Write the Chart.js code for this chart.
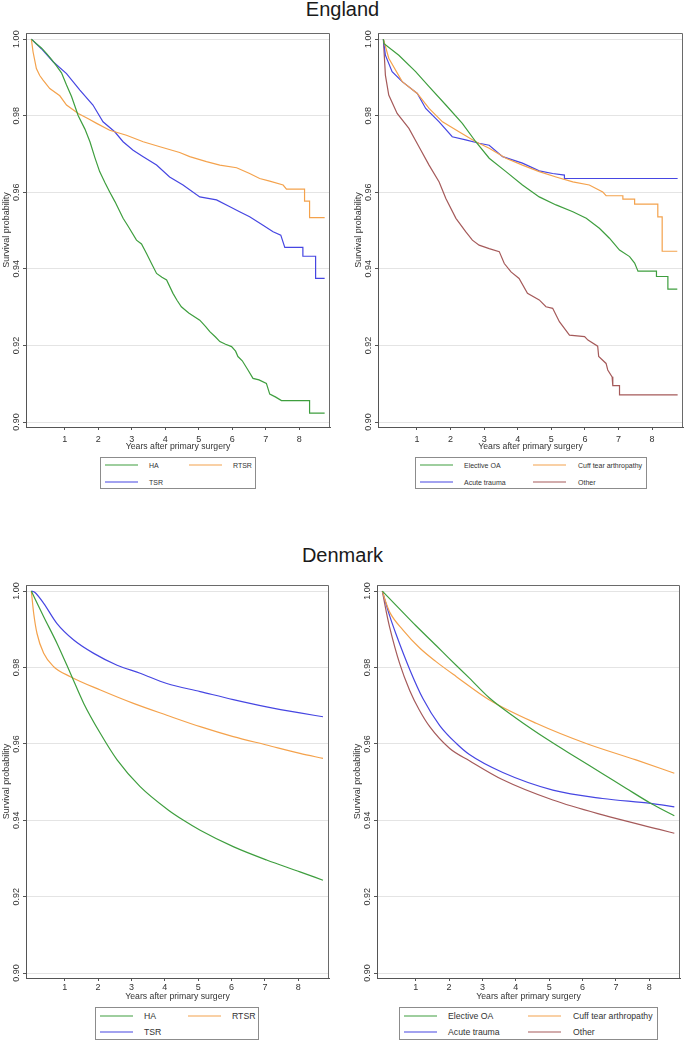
<!DOCTYPE html>
<html>
<head>
<meta charset="utf-8">
<script src="https://cdn.jsdelivr.net/npm/chart.js@4.4.1/dist/chart.umd.min.js"></script>
<style>
body { margin: 0; background: #fff; font-family: "Liberation Sans", Arial, sans-serif; }
#page { position: relative; width: 685px; height: 1041px; overflow: hidden; }
.title { position: absolute; left: 0; width: 685px; text-align: center; font-size: 20px; line-height: 20px; color: #1a1a1a; }
canvas { position: absolute; }
.legend { position: absolute; border: 1px solid #8c8c8c; box-sizing: border-box; }
.legend .txt { position: absolute; white-space: nowrap; color: #333; transform: translateY(-50%); }
.legend .ln { position: absolute; width: 33px; height: 0; border-top: 1.5px solid; transform: translateY(-50%); }
</style>
</head>
<body>
<div id="page">
  <div class="title" style="top:-1px">England</div>
  <div class="title" style="top:545px">Denmark</div>
  <canvas id="engType" width="340" height="425" style="left:0px;top:28px"></canvas>
  <canvas id="engInd" width="333" height="425" style="left:352px;top:28px"></canvas>
  <canvas id="dkType" width="340" height="424" style="left:0px;top:580px"></canvas>
  <canvas id="dkInd" width="333" height="424" style="left:351px;top:580px"></canvas>
</div>
<script>
// axis ticks and titles
var xTicks = [1, 2, 3, 4, 5, 6, 7, 8];
var yTicks = [0.90, 0.92, 0.94, 0.96, 0.98, 1.00];
var xTitle = "Years after primary surgery";
var yTitle = "Survival probability";

// England, by prosthesis type (Kaplan-Meier; repeated x = a visible drop)
var engHaX = [0, 0.15, 0.3, 0.45, 0.6, 0.75, 0.9, 1.05, 1.2, 1.4, 1.6, 1.75, 1.9, 2.04, 2.2, 2.34, 2.5, 2.74, 2.9, 3.14, 3.29, 3.44, 3.6, 3.74, 3.9, 4.04, 4.23, 4.35, 4.48, 4.7, 5.03, 5.2, 5.33, 5.5, 5.63, 5.8, 5.98, 6.1, 6.17, 6.3, 6.47, 6.62, 6.8, 7.02, 7.12, 7.3, 7.47, 8.31, 8.31, 8.76];
var engHaY = [1.0, 0.9988, 0.9977, 0.9963, 0.9947, 0.9930, 0.9912, 0.9880, 0.9850, 0.9800, 0.9765, 0.9732, 0.9690, 0.9654, 0.9625, 0.9601, 0.9575, 0.9532, 0.9510, 0.9475, 0.9465, 0.9440, 0.9412, 0.9388, 0.9378, 0.9371, 0.9336, 0.9318, 0.9301, 0.9285, 0.9266, 0.9250, 0.9236, 0.9222, 0.9210, 0.9203, 0.9197, 0.9185, 0.9171, 0.9160, 0.9136, 0.9114, 0.9110, 0.9101, 0.9073, 0.9065, 0.9056, 0.9056, 0.9023, 0.9023];
var engRtsrX = [0, 0.05, 0.15, 0.25, 0.35, 0.55, 0.85, 1.05, 1.4, 1.7, 1.95, 2.34, 2.84, 3.34, 3.84, 4.43, 4.73, 5.23, 5.63, 6.13, 6.52, 6.82, 7.12, 7.52, 7.62, 8.16, 8.16, 8.31, 8.31, 8.76];
var engRtsrY = [1.0, 0.9967, 0.9923, 0.9905, 0.9893, 0.9871, 0.9852, 0.9828, 0.9806, 0.9792, 0.9780, 0.9762, 0.9749, 0.9732, 0.9719, 0.9704, 0.9693, 0.9680, 0.9671, 0.9664, 0.9649, 0.9636, 0.9629, 0.9619, 0.9608, 0.9608, 0.9577, 0.9577, 0.9534, 0.9534];
var engTsrX = [0, 0.3, 0.65, 1.05, 1.45, 1.84, 2.14, 2.49, 2.74, 3.04, 3.34, 3.74, 4.13, 4.53, 5.03, 5.53, 5.93, 6.22, 6.52, 6.92, 7.22, 7.45, 7.57, 8.11, 8.11, 8.49, 8.49, 8.76];
var engTsrY = [1.0, 0.9975, 0.9941, 0.9910, 0.9867, 0.9828, 0.9784, 0.9758, 0.9732, 0.9710, 0.9693, 0.9671, 0.9640, 0.9619, 0.9588, 0.9580, 0.9562, 0.9549, 0.9536, 0.9514, 0.9497, 0.9488, 0.9456, 0.9456, 0.9433, 0.9433, 0.9375, 0.9375];

// England, by indication (Kaplan-Meier; repeated x = a visible drop)
var engOaX = [0, 0.02, 0.46, 0.96, 1.36, 1.86, 2.35, 2.75, 3.15, 3.65, 4.14, 4.64, 5.14, 5.64, 6.04, 6.43, 6.73, 7.03, 7.33, 7.48, 7.58, 8.13, 8.13, 8.47, 8.47, 8.75];
var engOaY = [1.0, 0.9988, 0.9958, 0.9915, 0.9876, 0.9828, 0.9780, 0.9732, 0.9689, 0.9654, 0.9619, 0.9588, 0.9567, 0.9549, 0.9532, 0.9506, 0.9480, 0.9449, 0.9432, 0.9415, 0.9394, 0.9394, 0.9380, 0.9380, 0.9347, 0.9347];
var engCuffX = [0, 0.16, 0.56, 1.01, 1.36, 1.76, 2.25, 2.75, 3.15, 3.65, 4.14, 4.64, 5.14, 5.64, 6.13, 6.53, 6.63, 7.13, 7.13, 7.48, 7.48, 8.17, 8.17, 8.30, 8.30, 8.75];
var engCuffY = [1.0, 0.9950, 0.9889, 0.9858, 0.9819, 0.9784, 0.9758, 0.9732, 0.9715, 0.9689, 0.9671, 0.9654, 0.9640, 0.9627, 0.9619, 0.9601, 0.9591, 0.9591, 0.9582, 0.9582, 0.9569, 0.9569, 0.9536, 0.9536, 0.9446, 0.9446];
var engTraumaX = [0, 0.06, 0.26, 0.56, 1.01, 1.26, 1.66, 2.05, 2.45, 2.85, 3.15, 3.55, 4.14, 4.64, 5.04, 5.39, 5.39, 8.76];
var engTraumaY = [1.0, 0.9958, 0.9915, 0.9889, 0.9858, 0.9819, 0.9784, 0.9745, 0.9737, 0.9728, 0.9723, 0.9693, 0.9676, 0.9656, 0.9649, 0.9645, 0.9636, 0.9636];
var engOtherX = [0, 0.06, 0.16, 0.41, 0.76, 1.06, 1.36, 1.66, 1.86, 2.16, 2.45, 2.65, 2.85, 3.15, 3.45, 3.6, 3.8, 4.04, 4.29, 4.64, 4.84, 5.04, 5.24, 5.54, 5.99, 6.09, 6.38, 6.41, 6.63, 6.68, 6.81, 6.83, 7.03, 7.03, 8.76];
var engOtherY = [1.0, 0.9906, 0.9854, 0.9806, 0.9767, 0.9719, 0.9671, 0.9627, 0.9584, 0.9532, 0.9497, 0.9475, 0.9462, 0.9453, 0.9445, 0.9414, 0.9392, 0.9375, 0.9336, 0.9319, 0.9301, 0.9297, 0.9262, 0.9227, 0.9223, 0.9214, 0.9198, 0.9171, 0.9153, 0.9136, 0.9118, 0.9095, 0.9095, 0.9071, 0.9071];

// Denmark, by prosthesis type (modelled curves)
var dkHaX = [0, 0.37, 0.77, 1.17, 1.57, 2.07, 2.57, 3.26, 4.1, 4.56, 5.06, 6.05, 7.05, 8.05, 8.74];
var dkHaY = [1.0, 0.9933, 0.9863, 0.9785, 0.9706, 0.9627, 0.9558, 0.9488, 0.9427, 0.9400, 0.9374, 0.9331, 0.9296, 0.9265, 0.9243];
var dkRtsrX = [0, 0.07, 0.17, 0.37, 0.67, 1.17, 2.07, 3.06, 4.06, 5.06, 6.05, 7.05, 8.05, 8.74];
var dkRtsrY = [1.0, 0.9942, 0.9889, 0.9837, 0.9802, 0.9776, 0.9741, 0.9706, 0.9675, 0.9645, 0.9619, 0.9597, 0.9575, 0.9562];
var dkTsrX = [0, 0.1, 0.37, 0.77, 1.27, 1.87, 2.57, 3.26, 4.06, 5.06, 6.05, 7.05, 8.05, 8.74];
var dkTsrY = [1.0, 0.9997, 0.9968, 0.9915, 0.9872, 0.9837, 0.9806, 0.9785, 0.9758, 0.9737, 0.9716, 0.9697, 0.9681, 0.9671];

// Denmark, by indication (modelled curves)
var dkOaX = [0, 0.5, 1.0, 1.62, 2.0, 2.61, 3.21, 4.0, 5.01, 5.8, 6.6, 7.3, 8.05, 8.75];
var dkOaY = [1.0, 0.9955, 0.9910, 0.9857, 0.9824, 0.9772, 0.9720, 0.9668, 0.9608, 0.9565, 0.9522, 0.9484, 0.9444, 0.9412];
var dkCuffX = [0, 0.1, 0.22, 0.62, 1.12, 1.6, 2.22, 3.21, 4.61, 6.11, 7.6, 8.75];
var dkCuffY = [1.0, 0.9972, 0.9945, 0.9898, 0.9851, 0.9816, 0.9776, 0.9715, 0.9654, 0.9601, 0.9558, 0.9523];
var dkTraumaX = [0, 0.22, 0.42, 0.82, 1.22, 1.72, 2.22, 2.61, 3.61, 5.11, 6.6, 8.05, 8.75];
var dkTraumaY = [1.0, 0.9935, 0.9885, 0.9795, 0.9718, 0.9648, 0.9601, 0.9572, 0.9525, 0.9479, 0.9457, 0.9444, 0.9435];
var dkOtherX = [0, 0.12, 0.22, 0.52, 0.82, 1.1, 1.42, 2.02, 2.61, 3.61, 5.11, 6.6, 8.3, 8.75];
var dkOtherY = [1.0, 0.9945, 0.9905, 0.9810, 0.9740, 0.9690, 0.9645, 0.9588, 0.9556, 0.9506, 0.9453, 0.9414, 0.9376, 0.9366];

var green = "#3e9e3e", orange = "#f4a24c", blue = "#4646e2", brown = "#a55a5a";

function pts(xs, ys) {
	return xs.map(function (x, i) { return { x: x, y: ys[i] }; });
}

// top and right sides of the plot frame
var framePlugin = {
	id: 'frame',
	afterDraw: function (chart) {
		var a = chart.chartArea, ctx = chart.ctx;
		ctx.save();
		ctx.strokeStyle = '#6a6a6a';
		ctx.lineWidth = 1;
		ctx.beginPath();
		ctx.moveTo(a.left, a.top + 0.5);
		ctx.lineTo(a.right - 0.5, a.top + 0.5);
		ctx.lineTo(a.right - 0.5, a.bottom);
		ctx.stroke();
		ctx.restore();
	}
};

function makeChart(id, series, opt) {
	var ctx = document.getElementById(id).getContext("2d");
	return new Chart(ctx, {
		type: 'line',
		data: {
			datasets: series.map(function (s) {
				return {
					label: s.label,
					data: pts(s.x, s.y),
					borderColor: s.color,
					borderWidth: 1.2,
					pointRadius: 0,
					fill: false,
					cubicInterpolationMode: opt.smooth ? 'monotone' : 'default',
					tension: 0
				};
			})
		},
		options: {
			responsive: false,
			animation: false,
			layout: { padding: { top: 5, right: opt.padRight, left: 0, bottom: 0 } },
			plugins: { legend: { display: false }, tooltip: { enabled: false } },
			scales: {
				x: {
					type: 'linear',
					min: -0.16,
					max: 8.92,
					afterBuildTicks: function (s) { s.ticks = xTicks.map(function (v) { return { value: v }; }); },
					afterFit: function (s) { s.height = 26; },
					grid: { drawOnChartArea: false, tickLength: 3, tickColor: '#555' },
					border: { color: '#555' },
					ticks: { font: { size: 9 }, color: '#333', padding: opt.xPad, maxRotation: 0, autoSkip: false },
					title: { display: true, text: xTitle, font: { size: 8.7 }, color: '#333', padding: { top: 0, bottom: opt.xTitlePad } }
				},
				y: {
					min: 0.8987,
					max: 1.0016,
					afterBuildTicks: function (s) { s.ticks = yTicks.map(function (v) { return { value: v }; }); },
					afterFit: function (s) { s.width = 26; },
					grid: { color: '#e4e4e4', tickLength: 3, tickColor: '#555' },
					border: { color: '#555' },
					ticks: {
						font: { size: 9 }, color: '#333', padding: -2.5,
						minRotation: 90, maxRotation: 90, crossAlign: 'center', autoSkip: false,
						callback: function (v) { return v.toFixed(2); }
					},
					title: { display: true, text: yTitle, font: { size: 9 }, color: '#333', padding: { top: 1, bottom: 0 } }
				}
			}
		},
		plugins: [framePlugin]
	});
}

function makeLegend(left, top, width, height, fontSize, rows, cols, items) {
	var box = document.createElement('div');
	box.className = 'legend';
	box.style.left = left + 'px';
	box.style.top = top + 'px';
	box.style.width = width + 'px';
	box.style.height = height + 'px';
	items.forEach(function (it, i) {
		var c = cols[i % 2], r = rows[Math.floor(i / 2)];
		var ln = document.createElement('div');
		ln.className = 'ln';
		ln.style.left = c[0] + 'px';
		ln.style.top = r + 'px';
		ln.style.borderTopColor = it.color;
		var tx = document.createElement('div');
		tx.className = 'txt';
		tx.style.left = c[1] + 'px';
		tx.style.top = r + 'px';
		tx.style.fontSize = fontSize + 'px';
		tx.textContent = it.label;
		box.appendChild(ln);
		box.appendChild(tx);
	});
	document.getElementById('page').appendChild(box);
}

var engTypeSeries = [
	{ label: "HA", x: engHaX, y: engHaY, color: green },
	{ label: "RTSR", x: engRtsrX, y: engRtsrY, color: orange },
	{ label: "TSR", x: engTsrX, y: engTsrY, color: blue }
];
var engIndSeries = [
	{ label: "Elective OA", x: engOaX, y: engOaY, color: green },
	{ label: "Cuff tear arthropathy", x: engCuffX, y: engCuffY, color: orange },
	{ label: "Acute trauma", x: engTraumaX, y: engTraumaY, color: blue },
	{ label: "Other", x: engOtherX, y: engOtherY, color: brown }
];
var dkTypeSeries = [
	{ label: "HA", x: dkHaX, y: dkHaY, color: green },
	{ label: "RTSR", x: dkRtsrX, y: dkRtsrY, color: orange },
	{ label: "TSR", x: dkTsrX, y: dkTsrY, color: blue }
];
var dkIndSeries = [
	{ label: "Elective OA", x: dkOaX, y: dkOaY, color: green },
	{ label: "Cuff tear arthropathy", x: dkCuffX, y: dkCuffY, color: orange },
	{ label: "Acute trauma", x: dkTraumaX, y: dkTraumaY, color: blue },
	{ label: "Other", x: dkOtherX, y: dkOtherY, color: brown }
];

makeChart("engType", engTypeSeries, { smooth: false, padRight: 10, xPad: 4, xTitlePad: 1 });
makeChart("engInd", engIndSeries, { smooth: false, padRight: 2, xPad: 4, xTitlePad: 1 });
makeChart("dkType", dkTypeSeries, { smooth: true, padRight: 11, xPad: 1, xTitlePad: 2.4 });
makeChart("dkInd", dkIndSeries, { smooth: true, padRight: 4, xPad: 1, xTitlePad: 2.4 });

makeLegend(100, 457, 156, 32, 7, [7, 24], [[4, 48], [88, 132]], engTypeSeries);
makeLegend(415, 457, 232, 32, 7, [7, 24], [[4, 48], [117, 162]], engIndSeries);
makeLegend(95, 1007, 164, 33, 8.7, [8, 24], [[4, 48], [92, 136]], dkTypeSeries);
makeLegend(399, 1007, 259, 33, 8.7, [8, 24], [[4, 48], [128, 173]], dkIndSeries);
</script>
</body>
</html>
